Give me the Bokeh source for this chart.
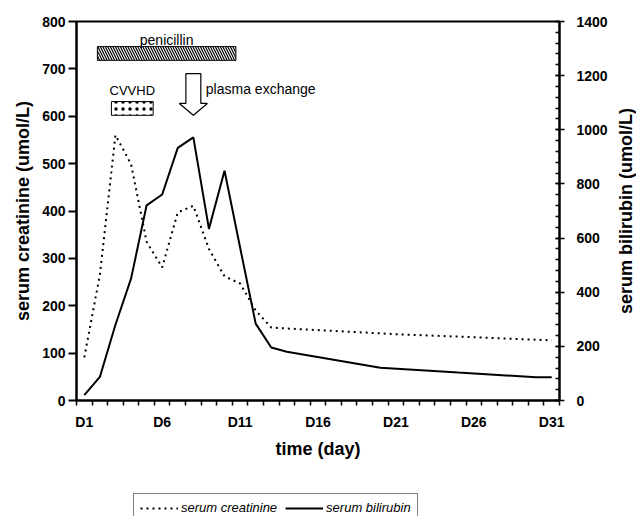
import math
from bokeh.plotting import figure
from bokeh.layouts import column, row
from bokeh.models import (Range1d, LinearAxis, FixedTicker, SingleIntervalTicker,
                          Legend, LegendItem, Label)
from bokeh.embed import file_html
from bokeh.resources import INLINE

# ---- data ----
days_creat = [1, 2, 3, 4, 5, 6, 7, 8, 9, 10, 11, 12, 13, 14, 21, 31]
creatinine = [91, 265, 560, 499, 335, 281, 397, 411, 320, 262, 247, 190, 154, 152, 140, 127]
days_bili = [1, 2, 3, 4, 5, 6, 7, 8, 9, 10, 11, 12, 13, 14, 20, 25, 30, 31]
bilirubin = [20, 87, 280, 450, 721, 761, 933, 972, 634, 849, 565, 284, 196, 180, 121, 103, 86, 86]
x_tick_days = [1, 6, 11, 16, 21, 26, 31]
x_tick_labels = ["D1", "D6", "D11", "D16", "D21", "D26", "D31"]

# annotation positions (data coordinates)
penicillin_span = (1.84, 10.73)
penicillin_y = (718, 747)
cvvhd_span = (2.74, 5.42)
cvvhd_y = (602, 631)
plasma_day = 8.0

FONT = "Liberation Sans"

p = figure(width=610, height=486, output_backend="svg", toolbar_location=None,
           x_range=Range1d(0.5, 31.5), y_range=Range1d(0, 800),
           min_border_left=76, min_border_right=49, min_border_top=21,
           min_border_bottom=86)
p.extra_y_ranges = {"bili": Range1d(0, 1400)}
p.grid.visible = False
p.outline_line_color = "black"
p.outline_line_width = 2
p.background_fill_color = "white"
p.border_fill_color = "white"

# x axis
xa = p.xaxis[0]
xa.ticker = FixedTicker(ticks=x_tick_days, minor_ticks=[d + 0.5 for d in range(0, 32)])
xa.major_label_overrides = {d: l for d, l in zip(x_tick_days, x_tick_labels)}
xa.major_tick_out = 0
xa.major_tick_in = 0
xa.minor_tick_out = 5
xa.minor_tick_in = 0
xa.minor_tick_line_width = 1.5
xa.minor_tick_line_color = "black"
xa.axis_line_width = 2
xa.axis_line_color = "black"
xa.major_label_standoff = 8
xa.major_label_text_font = FONT
xa.major_label_text_font_style = "bold"
xa.major_label_text_font_size = "14px"
xa.major_label_text_color = "black"
xa.axis_label = "time (day)"
xa.axis_label_text_font = FONT
xa.axis_label_text_font_style = "bold"
xa.axis_label_text_font_size = "18px"
xa.axis_label_text_color = "black"
xa.axis_label_standoff = 6

# left axis
ya = p.yaxis[0]
ya.ticker = SingleIntervalTicker(interval=100, num_minor_ticks=0)
ya.major_tick_out = 8
ya.major_tick_in = 0
ya.major_tick_line_width = 2
ya.major_tick_line_color = "black"
ya.minor_tick_line_color = None
ya.axis_line_width = 2
ya.axis_line_color = "black"
ya.major_label_standoff = 3
ya.major_label_text_font = FONT
ya.major_label_text_font_style = "bold"
ya.major_label_text_font_size = "14px"
ya.major_label_text_color = "black"
ya.axis_label = "serum creatinine (umol/L)"
ya.axis_label_text_font = FONT
ya.axis_label_text_font_style = "bold"
ya.axis_label_text_font_size = "18px"
ya.axis_label_text_color = "black"
ya.axis_label_standoff = 6

# right axis (its title is drawn in the narrow strip to the right)
ra = LinearAxis(y_range_name="bili",
                ticker=SingleIntervalTicker(interval=200, num_minor_ticks=5))
ra.major_tick_out = 5
ra.major_tick_in = 4
ra.major_tick_line_width = 1.5
ra.major_tick_line_color = "black"
ra.minor_tick_out = 0
ra.minor_tick_in = 4
ra.minor_tick_line_width = 1.5
ra.minor_tick_line_color = "black"
ra.axis_line_width = 2
ra.axis_line_color = "black"
ra.major_label_standoff = 12
ra.major_label_text_font = FONT
ra.major_label_text_font_style = "bold"
ra.major_label_text_font_size = "14px"
ra.major_label_text_color = "black"
p.add_layout(ra, "right")

# series
line_styles = {"creat": dict(line_color="black", line_width=2, line_dash="2 4"),
               "bili": dict(line_color="black", line_width=2)}
p.line(days_creat, creatinine, **line_styles["creat"])
p.line(days_bili, bilirubin, y_range_name="bili", **line_styles["bili"])

# treatment annotations
p.quad(left=[penicillin_span[0]], right=[penicillin_span[1]],
       bottom=[penicillin_y[0]], top=[penicillin_y[1]],
       fill_color="white", line_color="black", line_width=1,
       hatch_pattern="\\", hatch_scale=5, hatch_weight=1.2, hatch_color="black")
p.add_layout(Label(x=sum(penicillin_span) / 2, y=760, text="penicillin",
                   text_align="center", text_baseline="alphabetic",
                   text_font=FONT, text_font_size="14px", text_color="black"))

p.quad(left=[cvvhd_span[0]], right=[cvvhd_span[1]],
       bottom=[cvvhd_y[0]], top=[cvvhd_y[1]],
       fill_color="white", line_color="black", line_width=1,
       hatch_pattern=".", hatch_scale=7, hatch_weight=1.5, hatch_color="black")
p.add_layout(Label(x=sum(cvvhd_span) / 2, y=655, text="CVVHD",
                   text_align="center", text_baseline="alphabetic",
                   text_font=FONT, text_font_size="13px", text_color="black"))

shaft_hw, head_hw = 0.48, 0.9
arrow_x = [plasma_day - shaft_hw, plasma_day + shaft_hw, plasma_day + shaft_hw,
           plasma_day + head_hw, plasma_day, plasma_day - head_hw, plasma_day - shaft_hw]
arrow_y = [690, 690, 627, 627, 602, 627, 627]
p.patch(arrow_x, arrow_y, fill_color="white", line_color="black", line_width=1.2)
p.add_layout(Label(x=plasma_day + 0.8, y=657, text="plasma exchange",
                   text_align="left", text_baseline="alphabetic",
                   text_font=FONT, text_font_size="14px", text_color="black"))

# narrow strip holding the right axis title (reads bottom to top)
pr = figure(width=26, height=486, output_backend="svg", toolbar_location=None,
            x_range=Range1d(0, 1), y_range=Range1d(0, 1400),
            min_border_left=0, min_border_right=0, min_border_top=21,
            min_border_bottom=86, x_axis_location=None, y_axis_location=None)
pr.grid.visible = False
pr.outline_line_color = None
pr.background_fill_color = "white"
pr.border_fill_color = "white"
pr.add_layout(Label(x=0.6, y=700, text="serum bilirubin (umol/L)", angle=math.pi / 2,
                    text_align="center", text_baseline="middle",
                    text_font=FONT, text_font_style="bold", text_font_size="18px",
                    text_color="black"))

# legend strip below the chart (same series, lines kept out of view)
pl = figure(width=636, height=30, output_backend="svg", toolbar_location=None,
            x_range=Range1d(0.5, 31.5), y_range=Range1d(-2000, -1000),
            min_border=0, x_axis_location=None, y_axis_location=None)
pl.grid.visible = False
pl.outline_line_color = None
pl.background_fill_color = "white"
pl.border_fill_color = "white"
lc = pl.line(days_creat, creatinine, **line_styles["creat"])
lb = pl.line(days_bili, bilirubin, **line_styles["bili"])
legend = Legend(items=[LegendItem(label="serum creatinine", renderers=[lc]),
                       LegendItem(label="serum bilirubin", renderers=[lb])],
                orientation="horizontal", location=(133, -6),
                label_text_font=FONT, label_text_font_style="italic",
                label_text_font_size="13px", label_text_color="black",
                glyph_width=38, glyph_height=14, spacing=8, padding=6,
                label_standoff=3, margin=0,
                border_line_color="black", border_line_width=1,
                background_fill_color="white", background_fill_alpha=1)
pl.add_layout(legend)

layout = column(row(p, pr, spacing=0), pl, spacing=0)
open("out.html", "w").write(file_html(layout, INLINE))
